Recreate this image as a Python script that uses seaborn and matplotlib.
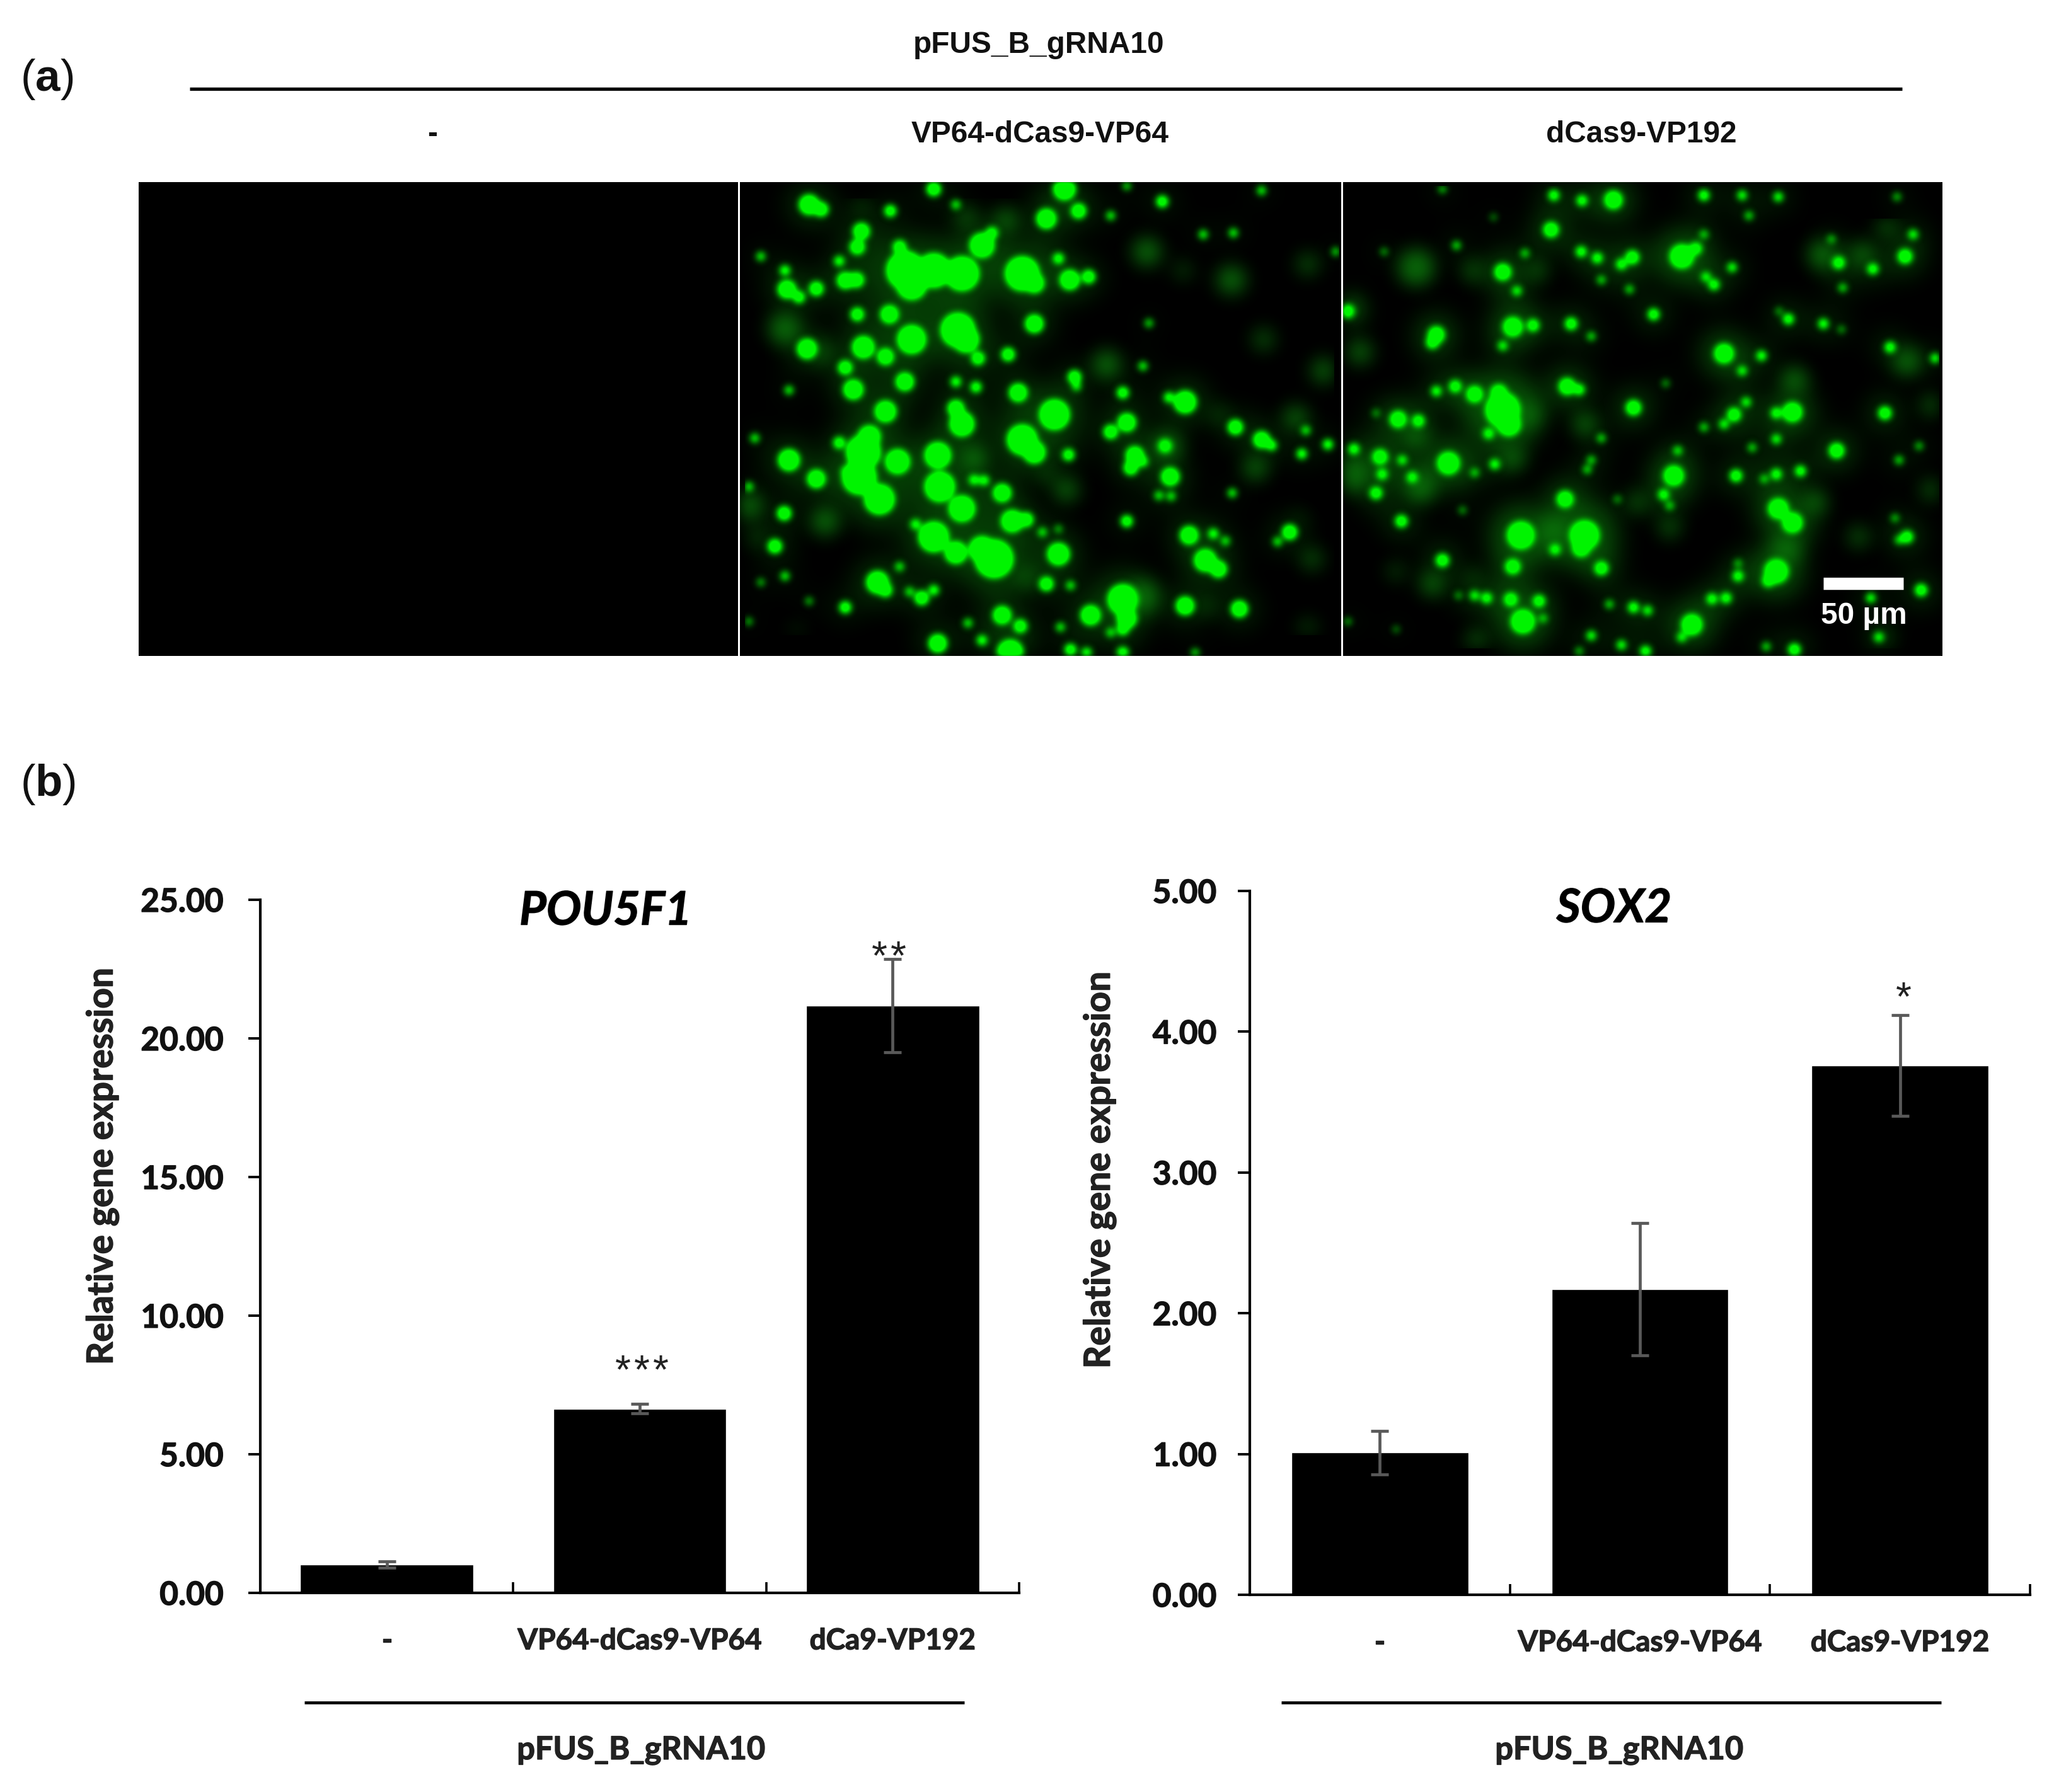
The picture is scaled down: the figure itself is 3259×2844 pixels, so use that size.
import numpy as np
import matplotlib
matplotlib.use("Agg")
import matplotlib.pyplot as plt
import matplotlib.patheffects as pe
from matplotlib.colors import to_rgb
import seaborn as sns

W, H = 3259, 2844

# ---- values ----
categories_left = ["-", "VP64-dCas9-VP64", "dCa9-VP192"]
categories_right = ["-", "VP64-dCas9-VP64", "dCas9-VP192"]
pou5f1_values = [1.03, 6.64, 21.18]
pou5f1_errors = [0.11, 0.17, 1.69]
sox2_values = [1.01, 2.17, 3.76]
sox2_errors = [0.155, 0.47, 0.36]
pou5f1_ticks = [0, 5, 10, 15, 20, 25]
sox2_ticks = [0, 1, 2, 3, 4, 5]

# ---- green cell blobs (x, y, radius) ----
mid_bright = [
    (450,300,45),(520,300,40),(590,310,40),(465,345,35),(740,310,40),(770,340,22),(580,490,40),(600,520,30),
    (465,520,33),(345,880,40),(335,960,40),(360,830,25),(385,1030,35),(530,890,30),(535,990,35),(590,1060,30),
    (520,1150,35),(670,1220,45),(640,1190,30),(575,1200,25),(740,840,35),(770,880,25),(820,760,35),(590,790,28),
    (575,740,18),(400,750,24),(430,910,28),(160,905,24),(228,965,20),(205,550,22),(155,360,20),(845,40,25),
    (210,90,22),(240,105,15),(340,175,18),(330,225,16),(435,225,14),(640,220,28),(665,180,12),(800,135,22),
    (880,110,16),(858,330,22),(905,320,14),(830,262,11),(300,332,18),(328,330,16),(228,358,15),(185,385,12),
    (412,110,12),(330,440,14),(410,440,20),(345,545,25),(400,575,18),(300,610,15),(320,680,22),(448,655,20),
    (630,580,14),(705,568,14),(730,690,20),(625,672,11),(575,655,10),(770,470,20),(150,300,10),(285,270,10),
    (285,850,12),(300,940,8),(148,1075,15),(125,1180,15),(300,1375,12),(380,1295,25),(400,1320,14),(490,1345,15),
    (520,1320,10),(460,1325,8),(800,1300,15),(860,1305,8),(715,1100,25),(690,1010,20),(750,1095,15),(620,968,10),
    (645,970,10),(855,888,12),(1000,785,20),(960,815,15),(1020,890,20),(1010,930,15),(1040,910,10),(1095,860,14),
    (1108,958,20),(1145,720,25),(1105,705,10),(990,690,12),(870,640,14),(875,670,8),(1040,605,8),(1055,468,7),
    (1270,800,16),(1335,840,18),(1360,858,10),(1500,855,10),(1435,885,10),(1445,810,8),(1110,1020,8),(1080,1018,8),
    (1262,1010,8),(1155,1145,20),(1215,1140,10),(1245,1163,8),(1195,1225,25),(1228,1253,18),(1405,1135,16),
    (1375,1165,8),(1145,1370,20),(1280,1380,18),(990,1350,35),(1000,1410,22),(910,1400,22),(990,1445,12),
    (960,1455,8),(835,1438,8),(830,1205,25),(735,1435,14),(690,1400,20),(605,1425,8),(640,1480,10),(530,1490,20),
    (710,1520,30),(860,1510,12),(900,1520,10),(990,1520,12),(1170,1520,7),(1088,80,12),(1335,45,8),(1190,185,8),
    (1265,180,8),(960,125,8),(1520,240,7),(520,40,15),(575,90,8),(1000,30,7),(60,990,8),(75,835,8),(160,682,8),
    (90,255,8),(60,1420,6),(90,1295,6),(150,1275,8),(210,1355,6),(435,1245,8),(475,1110,10),(790,1135,8),
    (830,1125,6),(1000,1100,12),
]
mid_dim = [
    (150,485,35),(60,1050,30),(950,600,30),(1260,330,30),(1450,280,20),(1340,520,20),(1490,620,25),(1140,300,15),
    (1320,930,25),(1100,860,30),(1230,760,15),(1420,770,25),(1460,1220,20),(1430,1090,10),(1050,240,30),(600,130,20),
    (700,140,25),(250,1100,30),(850,1000,25),(800,950,15),(340,90,15),(620,900,30),(240,560,20),(80,1150,15),
    (1200,1370,15),(1450,1440,15),(1040,1340,35),(750,1280,20),(180,1450,10),
]
right_bright = [
    (415,745,45),(430,790,30),(405,690,20),(380,820,12),(345,695,20),(297,670,14),(250,685,11),(460,1145,35),
    (440,1245,18),(618,1145,38),(610,1185,22),(415,305,20),(250,505,20),(240,530,14),(690,75,22),(612,77,12),
    (542,60,12),(535,170,18),(737,258,16),(710,280,12),(650,260,12),(610,240,12),(860,255,30),(895,230,14),
    (915,185,8),(1027,125,8),(1010,60,10),(915,60,12),(1395,65,7),(1232,200,7),(1250,275,14),(1335,295,12),
    (1415,255,17),(1435,185,10),(1260,355,8),(660,330,8),(450,365,10),(920,320,10),(940,345,12),(790,440,13),
    (585,470,14),(635,510,8),(440,480,24),(490,475,14),(415,540,10),(965,565,24),(1058,572,11),(1125,455,12),
    (1102,430,6),(1212,470,11),(1257,488,6),(1378,545,12),(575,670,20),(605,680,12),(740,738,18),(1135,752,24),
    (1095,755,12),(1365,755,15),(1020,720,10),(990,760,16),(965,790,10),(1245,875,18),(1095,838,10),(1035,865,8),
    (850,875,9),(660,835,8),(915,800,8),(840,955,25),(815,1015,12),(830,1050,8),(995,955,14),(1065,965,8),
    (1095,950,12),(1155,940,12),(1100,1060,25),(1135,1105,25),(1095,1260,30),(1075,1290,14),(570,1030,20),
    (660,1250,16),(545,1190,12),(265,1225,15),(163,1100,14),(100,1010,14),(115,950,12),(110,895,18),(45,870,12),
    (165,905,10),(190,960,12),(280,915,28),(395,918,11),(345,945,8),(155,775,20),(205,780,14),(100,755,6),
    (435,1350,16),(505,1355,14),(375,1345,12),(345,1337,10),(305,1337,6),(465,1420,30),(515,1410,8),(885,1430,26),
    (860,1470,10),(970,1345,12),(935,1348,12),(1000,1275,12),(1000,1235,7),(740,1375,12),(775,1385,10),(680,1365,8),
    (635,1465,10),(710,1495,10),(770,1515,12),(605,1515,7),(1140,1510,14),(1070,1500,8),(1455,1320,14),(1330,1345,10),
    (1350,1470,10),(1420,1150,14),(1400,1160,8),(1400,905,8),(1450,860,7),(635,905,8),(625,935,8),(1010,620,10),
    (30,1420,6),(730,360,8),(300,220,8),(470,245,8),(120,240,6),(30,430,15),(1490,580,10),(820,660,6),(700,1030,6),
    (1390,1090,7),(315,1065,6),(150,1445,5),(265,40,7),(392,130,5),(1100,65,10),(985,290,10),
]
right_dim = [
    (200,290,40),(60,560,25),(40,950,40),(210,990,35),(1140,650,28),(1420,590,30),(480,760,25),(620,790,25),
    (540,1130,30),(1190,1040,25),(1120,1190,30),(1310,250,25),(1370,160,20),(40,420,20),(340,300,20),(500,300,20),
    (1480,1000,20),(1300,1150,20),(830,1120,20),(750,1040,20),(1480,730,20),(240,1300,25),(150,1260,15),(350,1480,20),
    (1360,1470,15),(200,830,25),(340,1280,15),(440,900,25),(1210,250,30),
]

sns.set_theme(style="white")
plt.rcParams["font.family"] = ["Liberation Sans", "DejaVu Sans"]
plt.rcParams["mathtext.fontset"] = "custom"
plt.rcParams["mathtext.bf"] = "Liberation Sans:bold"
plt.rcParams["mathtext.rm"] = "Liberation Sans"

fig = plt.figure(figsize=(W / 100, H / 100), dpi=100, facecolor="white")
THICK = [pe.withStroke(linewidth=1.0, foreground="#1a1a1a")]


def px_axes(left, top, right, bottom):
    return fig.add_axes([left / W, 1 - bottom / H, (right - left) / W, (bottom - top) / H])


def glow(color, sigma, gain, top=1.0):
    # agg filter: gaussian blur of the alpha, then gain and clip so close cells melt together
    rgb = to_rgb(color)

    def process(img, dpi):
        pad = int(3 * sigma)
        a = np.pad(img[..., 3], pad)
        fy = np.fft.fftfreq(a.shape[0])[:, None]
        fx = np.fft.rfftfreq(a.shape[1])[None, :]
        kernel = np.exp(-2 * (np.pi * sigma) ** 2 * (fx ** 2 + fy ** 2))
        a = np.fft.irfft2(np.fft.rfft2(a) * kernel, s=a.shape)[pad:-pad, pad:-pad]
        out = np.zeros_like(img)
        out[..., :3] = rgb
        out[..., 3] = np.clip(a * gain, 0, top)
        return out, 0, 0

    return process


def blobs(ax, data, scale, afilter):
    x, y, r = np.array(data, dtype=float).T
    sns.scatterplot(x=x, y=y, s=(0.9 * r * scale) ** 2, color="#00f400", linewidth=0, legend=False, ax=ax)
    ax.collections[-1].set_agg_filter(afilter)


def micrograph(left, right, xlim, dim, bright, core_scale=1.0, haze=0.75):
    ax = px_axes(left, 289, right, 1041)
    ax.set_facecolor("black")
    if bright:
        blobs(ax, bright, 2.0, glow("#0a7a0a", 16, haze, top=0.7))
        blobs(ax, dim, 1.0, glow("#0b7d0b", 11, 1.1, top=0.75))
        blobs(ax, bright, core_scale, glow("#00f400", 4, 1.5))
    ax.set_xlim(*xlim)
    ax.set_ylim(1530, 18)
    ax.set(xticks=[], yticks=[], xlabel="", ylabel="")
    for s in ax.spines.values():
        s.set_visible(False)
    return ax


micrograph(220, 1171, (0, 1), None, None)
micrograph(1174, 2128, (38, 1533), mid_dim, mid_bright, core_scale=1.02)
micrograph(2131, 3082, (18, 1508), right_dim, right_bright, core_scale=0.92, haze=0.95)


def bar_panel(box, labels, values, errors, ticks, ylabel_xy, bar_w, tick_pad):
    ax = px_axes(*box)
    sns.barplot(x=labels, y=values, color="black", saturation=1, width=bar_w, ax=ax)
    ax.errorbar(range(3), values, yerr=errors, fmt="none", ecolor="#595959",
                elinewidth=3.4, capsize=10, capthick=3.4, zorder=5)
    ax.set_xlim(-0.5, 2.5)
    ax.set_ylim(0, ticks[-1])
    ax.set_yticks(ticks, [f"{t:.2f}" for t in ticks])
    ax.set_xticks([0, 1, 2], labels)
    ax.set_xticks([0.5, 1.5, 2.5], minor=True)
    ax.tick_params(axis="y", left=True, length=14, width=2.8, color="black", pad=tick_pad,
                   labelsize=37, labelcolor="#111111")
    ax.tick_params(axis="x", which="major", length=0, pad=40, labelsize=33, labelcolor="#222222")
    ax.tick_params(axis="x", which="minor", bottom=True, direction="in", length=12, width=2.6, color="black")
    for lab in ax.get_yticklabels() + ax.get_xticklabels():
        lab.set_fontfamily("Lato")
        lab.set_fontweight("bold")
        lab.set_path_effects(THICK)
    sns.despine(ax=ax)
    for side in ("left", "bottom"):
        ax.spines[side].set_linewidth(3.0)
        ax.spines[side].set_color("black")
    ax.set_ylabel("Relative gene expression", fontfamily="Lato", fontweight="bold", fontsize=41,
                  color="#222222", path_effects=THICK)
    ax.yaxis.set_label_coords(*ylabel_xy)
    ax.set_xlabel("")
    ax.patch.set_alpha(0)
    return ax


bar_panel((413, 1428, 1617, 2528), categories_left, pou5f1_values, pou5f1_errors, pou5f1_ticks,
          (-0.186, 0.616), 0.685, 28)
bar_panel((1983, 1414, 3221, 2531), categories_right, sox2_values, sox2_errors, sox2_ticks,
          (-0.171, 0.604), 0.68, 24)

# overlay in image pixels for labels, rules and scale bar
ov = fig.add_axes([0, 0, 1, 1], facecolor="none")
ov.set_xlim(0, W)
ov.set_ylim(H, 0)
ov.axis("off")


def label(x, y, s, size=34.4, color="#111111", **kw):
    kw.setdefault("fontweight", "bold")
    ov.text(x, y, s, fontsize=size, color=color, ha="center", va="center", **kw)


label(1648, 72, "pFUS_B_gRNA10")
label(686, 214, "-")
label(1650, 214, "VP64-dCas9-VP64")
label(2604, 214, "dCas9-VP192")
ov.plot([301, 3018], [141, 141], color="black", lw=3.8, solid_capstyle="butt")

label(74, 126, r"($\mathbf{a}$)", size=51, fontweight="normal")
label(76, 1245, r"($\mathbf{b}$)", size=51, fontweight="normal")

ov.plot([2893, 3020], [926, 926], color="white", lw=14, solid_capstyle="butt")
label(2957, 978, "50 µm", color="white", size=34.5)

label(961, 1446, "POU5F1", size=53, fontfamily="Lato", fontstyle="italic", color="black", path_effects=THICK)
label(2561, 1442, "SOX2", size=53, fontfamily="Lato", fontstyle="italic", color="black", path_effects=THICK)

for xs, y in [((988, 1018, 1048), 2178), ((1395, 1425), 1521), ((3020,), 1586)]:
    for x in xs:
        label(x, y, "*", size=46, fontweight="normal", color="#222222")

ov.plot([483, 1530], [2702, 2702], color="black", lw=3.4, solid_capstyle="butt")
ov.plot([2033, 3080], [2702, 2702], color="black", lw=3.4, solid_capstyle="butt")
label(1017, 2778, "pFUS_B_gRNA10", size=36.3, fontfamily="Lato", color="#222222", path_effects=THICK)
label(2569, 2778, "pFUS_B_gRNA10", size=36.3, fontfamily="Lato", color="#222222", path_effects=THICK)

fig.savefig("out.png", dpi=100, facecolor="white")
